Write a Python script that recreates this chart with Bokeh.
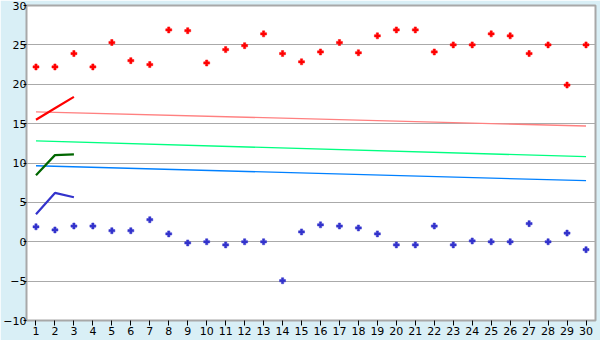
from bokeh.plotting import figure
from bokeh.embed import file_html
from bokeh.resources import INLINE
from bokeh.models import FixedTicker, Range1d

days = list(range(1, 31))
red_points = [22.2, 22.2, 23.9, 22.2, 25.3, 23.0, 22.5, 26.9, 26.8, 22.7,
              24.4, 24.9, 26.4, 23.9, 22.85, 24.1, 25.3, 24.0, 26.15, 26.9,
              26.9, 24.1, 25.0, 25.0, 26.4, 26.15, 23.9, 25.0, 19.9, 25.0]
blue_points = [1.9, 1.5, 2.0, 2.0, 1.4, 1.4, 2.8, 1.0, -0.15, 0.0,
               -0.4, 0.0, 0.0, -4.95, 1.25, 2.15, 2.0, 1.75, 1.0, -0.4,
               -0.4, 2.0, -0.4, 0.1, 0.0, 0.0, 2.3, 0.0, 1.1, -1.0]

short_x = [1, 2, 3]
red_line = [15.5, 16.95, 18.4]
green_line = [8.45, 11.0, 11.1]
purple_line = [3.5, 6.2, 5.65]

trend_x = [1, 30]
pink_trend = [16.5, 14.7]
green_trend = [12.8, 10.8]
blue_trend = [9.65, 7.75]

y_ticks = [-10, -5, 0, 5, 10, 15, 20, 25, 30]

bg = "#d9eff6"
p = figure(width=600, height=340, output_backend="svg", toolbar_location=None,
           x_range=Range1d(0.5, 30.5), y_range=Range1d(-10, 30),
           min_border_left=10, min_border_right=5, min_border_top=5,
           min_border_bottom=20, border_fill_color=bg, background_fill_color="white",
           outline_line_color="#a8a8a8", outline_line_width=2)

p.xgrid.grid_line_color = None
p.ygrid.grid_line_color = "#aaaaaa"
p.ygrid.grid_line_width = 1

p.xaxis.ticker = FixedTicker(ticks=days)
p.yaxis.ticker = FixedTicker(ticks=y_ticks)
for ax in (p.xaxis[0], p.yaxis[0]):
    ax.axis_line_color = "#a8a8a8"
    ax.major_tick_line_color = "black"
    ax.minor_tick_line_color = None
    ax.major_label_text_font = "DejaVu Sans"
    ax.major_label_text_font_size = "11px"
    ax.major_label_text_color = "black"
    ax.major_tick_in = 0
p.xaxis.major_tick_out = 5
p.yaxis.major_tick_out = 3
p.xaxis.major_label_standoff = 1
p.yaxis.major_label_standoff = -3

p.line(trend_x, pink_trend, line_color="#ff8080", line_width=1.3)
p.line(trend_x, green_trend, line_color="#00ff80", line_width=1.3)
p.line(trend_x, blue_trend, line_color="#0080ff", line_width=1.3)

p.line(short_x, red_line, line_color="#ff0000", line_width=2.2)
p.line(short_x, green_line, line_color="#006600", line_width=2.2)
p.line(short_x, purple_line, line_color="#3333cc", line_width=2.2)

p.scatter(days, red_points, marker="plus", size=6, color="#ff0000", line_width=0.5)
p.scatter(days, blue_points, marker="plus", size=6, color="#3333cc", line_width=0.5)

open("out.html", "w").write(file_html(p, INLINE))
